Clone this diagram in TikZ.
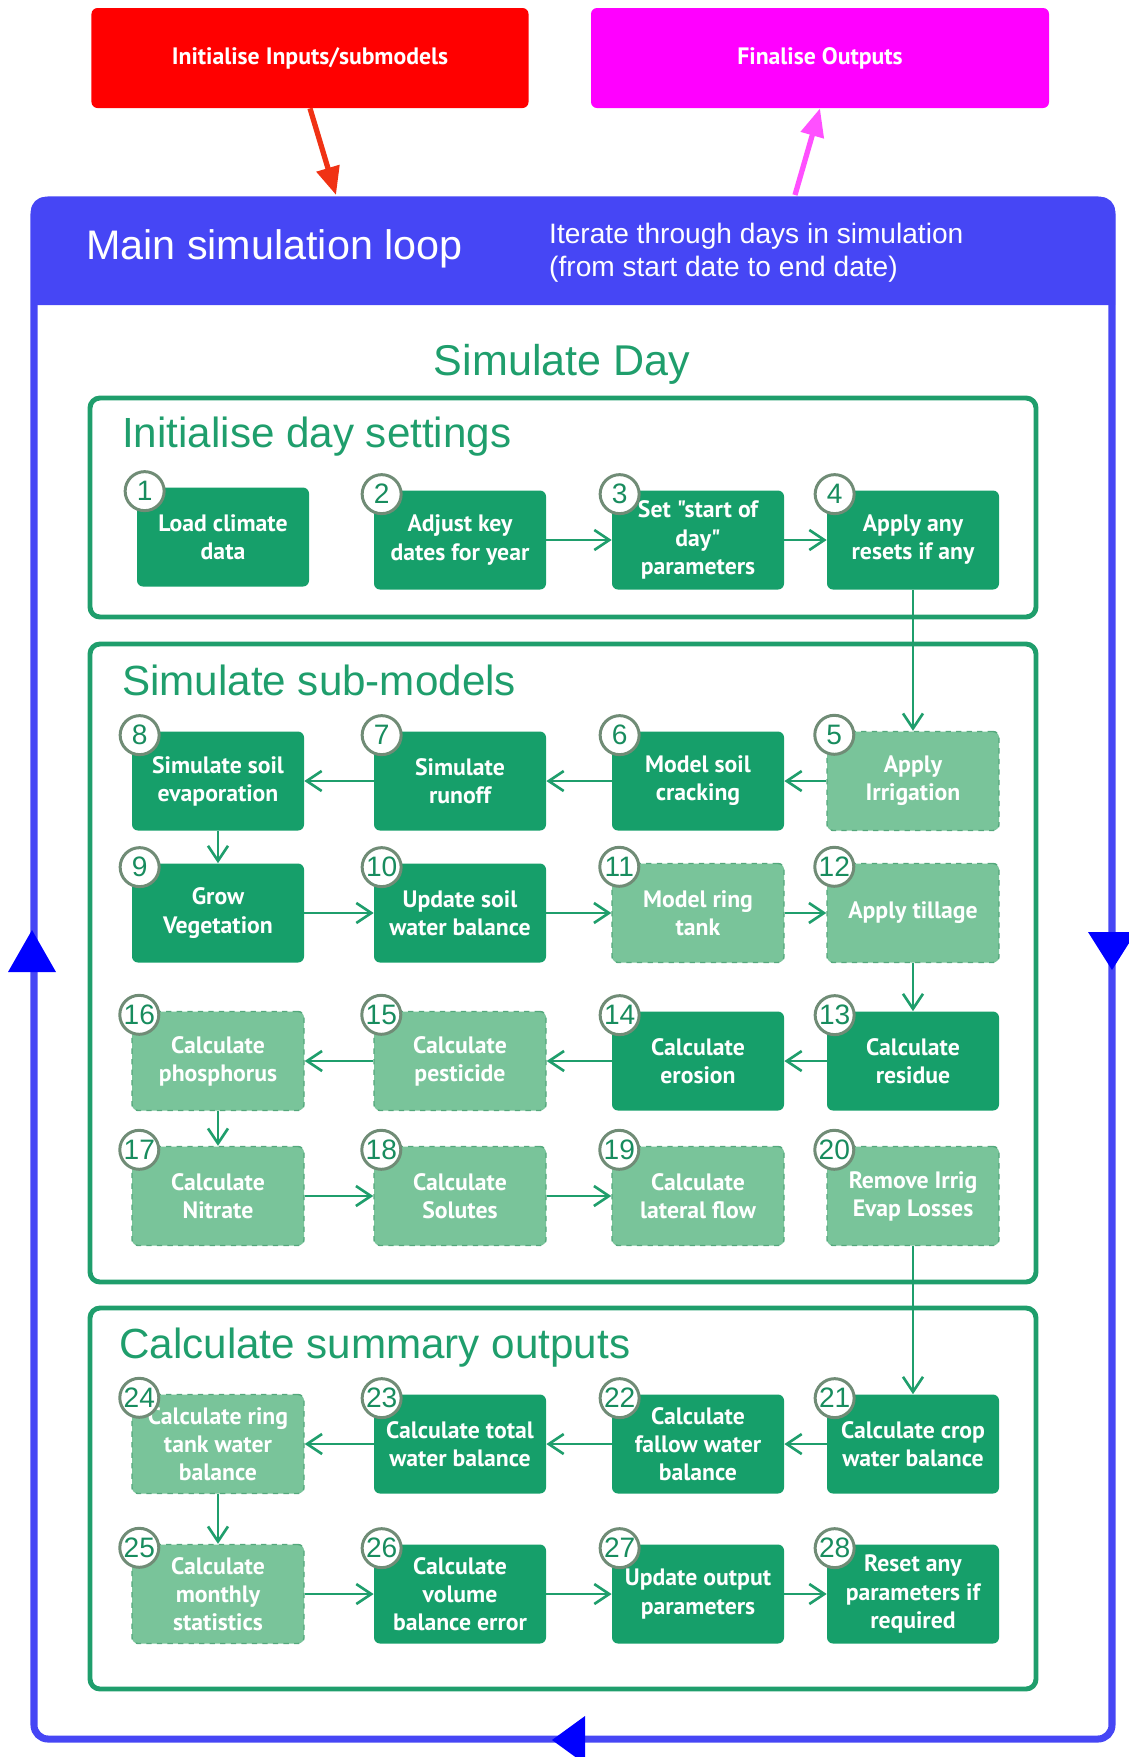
\documentclass[tikz,border=0pt]{standalone}
\usepackage{fontspec}
\setmainfont{Liberation Sans}
\newfontfamily\boxfont{PT Sans}[Ligatures=TeXOff]
\usetikzlibrary{arrows.meta, positioning}

\definecolor{stepgreen}{RGB}{22,159,106}
\definecolor{optgreen}{RGB}{121,196,154}
\definecolor{optborder}{RGB}{84,168,124}
\definecolor{framegreen}{RGB}{31,158,108}
\definecolor{loopblue}{RGB}{70,70,245}
\definecolor{tipblue}{RGB}{0,0,255}
\definecolor{numring}{RGB}{112,140,118}
\definecolor{numtext}{RGB}{24,140,94}
\definecolor{initred}{RGB}{255,0,0}
\definecolor{arrowred}{RGB}{240,50,20}
\definecolor{finalpink}{RGB}{255,0,255}
\definecolor{arrowpink}{RGB}{255,80,255}

\tikzset{
  task/.style = {rectangle, rounded corners=1.2mm, fill=stepgreen, text=white,
      minimum width=34.4mm, minimum height=19.8mm, inner sep=1pt, align=center,
      font=\boxfont\bfseries\fontsize{13.5}{16}\selectfont},
  opttask/.style = {task, fill=optgreen, draw=optborder, dashed, line width=0.8pt},
  num/.style = {circle, draw=numring, fill=white, line width=1.7pt,
      minimum size=7.8mm, inner sep=0pt, text=numtext,
      font=\fontsize{16}{16}\selectfont},
  flow/.style = {-{Straight Barb[length=3mm, width=4mm, line width=1.5pt]},
      framegreen, line width=1.4pt},
  stage/.style = {draw=framegreen, line width=2.8pt, rounded corners=2mm},
  stagetitle/.style = {anchor=west, text=framegreen,
      font=\fontsize{24}{28}\selectfont},
  topbox/.style = {rectangle, rounded corners=1.2mm, text=white,
      minimum width=#1, minimum height=20mm,
      font=\boxfont\bfseries\fontsize{13.5}{15}\selectfont},
  topbox/.default = 88mm,
  loopline/.style = {draw=loopblue, line width=4pt},
  looptip/.style = {fill=tipblue},
}

\begin{document}
\begin{tikzpicture}[x=0.2mm, y=-0.2mm]
  \useasboundingbox (0,0) rectangle (1129,1757);

  % main loop frame
  \fill[loopblue, rounded corners=2.8mm] (31,305) -- (31,197) -- (1115,197) -- (1115,305);
  \draw[loopline, rounded corners=2.8mm] (34,200) rectangle (1112,1739);
  \fill[looptip] (1112,970) -- (1088,932) -- (1136,932) -- cycle;
  \fill[looptip] (32,930) -- (8,972) -- (56,972) -- cycle;
  \fill[looptip] (552,1740) -- (585,1716) -- (585,1764) -- cycle;

  \node[anchor=west, text=white, font=\fontsize{23.5}{28}\selectfont] (looptitle)
    at (80,249) {Main simulation loop};
  \node[anchor=west, text=white, align=left, font=\fontsize{16}{18.8}\selectfont] (loopnote)
    at (543,253) {Iterate through days in simulation\\(from start date to end date)};

  \node[topbox=87.4mm, fill=initred] (init) at (310,58) {Initialise Inputs/submodels};
  \node[topbox=91.6mm, fill=finalpink] (final) at (820,58) {Finalise Outputs};
  \coordinate (loopin) at (336,195);
  \coordinate (loopout) at (795,195);
  \draw[-{Triangle[length=5.6mm, width=4.6mm]}, arrowred, line width=3pt] (init.south) -- (loopin);
  \draw[-{Triangle[length=5.6mm, width=4.6mm]}, arrowpink, line width=3pt] (loopout) -- (final.south);

  \node[text=framegreen, font=\fontsize{24.5}{28}\selectfont] (simday) at (562,364) {Simulate Day};

  % stages
  \draw[stage] (90,398) rectangle (1036,617);
  \node[stagetitle] (daytitle) at (116,437) {Initialise day settings};
  \draw[stage] (90,644) rectangle (1036,1282);
  \node[stagetitle] (subtitle) at (116,680) {Simulate sub-models};
  \draw[stage] (90,1308) rectangle (1036,1689);
  \node[stagetitle] (sumtitle) at (113,1348) {Calculate summary outputs};

  \node[task] (n1) at (223,537) {Load climate\\data};
  \node[task] (n2) at (460,540) {Adjust key\\dates for year};
  \node[task] (n3) at (698,540) {Set "start of\\day"\\parameters};
  \node[task] (n4) at (913,540) {Apply any\\resets if any};

  \node[opttask] (n5) at (913,781) {Apply\\Irrigation};
  \node[task] (n6) at (698,781) {Model soil\\cracking};
  \node[task] (n7) at (460,781) {Simulate\\runoff};
  \node[task] (n8) at (218,781) {Simulate soil\\evaporation};

  \node[task] (n9) at (218,913) {Grow\\Vegetation};
  \node[task] (n10) at (460,913) {Update soil\\water balance};
  \node[opttask] (n11) at (698,913) {Model ring\\tank};
  \node[opttask] (n12) at (913,913) {Apply tillage};

  \node[task] (n13) at (913,1061) {Calculate\\residue};
  \node[task] (n14) at (698,1061) {Calculate\\erosion};
  \node[opttask] (n15) at (460,1061) {Calculate\\pesticide};
  \node[opttask] (n16) at (218,1061) {Calculate\\phosphorus};

  \node[opttask] (n17) at (218,1196) {Calculate\\Nitrate};
  \node[opttask] (n18) at (460,1196) {Calculate\\Solutes};
  \node[opttask] (n19) at (698,1196) {Calculate\\lateral flow};
  \node[opttask] (n20) at (913,1196) {Remove Irrig\\Evap Losses};

  \node[task] (n21) at (913,1444) {Calculate crop\\water balance};
  \node[task] (n22) at (698,1444) {Calculate\\fallow water\\balance};
  \node[task] (n23) at (460,1444) {Calculate total\\water balance};
  \node[opttask] (n24) at (218,1444) {Calculate ring\\tank water\\balance};

  \node[opttask] (n25) at (218,1594) {Calculate\\monthly\\statistics};
  \node[task] (n26) at (460,1594) {Calculate\\volume\\balance error};
  \node[task] (n27) at (698,1594) {Update output\\parameters};
  \node[task] (n28) at (913,1594) {Reset any\\parameters if\\required};

  \foreach \i in {1,...,28}
    \node[num] (c\i) at ([shift={(8,4)}]n\i.north west) {\i};

  \foreach \a/\b in {2/3,3/4,4/5,5/6,6/7,7/8,8/9,9/10,10/11,11/12,12/13,13/14,
                     14/15,15/16,16/17,17/18,18/19,20/21,21/22,22/23,23/24,
                     24/25,25/26,26/27,27/28}
    \draw[flow] (n\a) -- (n\b);
\end{tikzpicture}
\end{document}
